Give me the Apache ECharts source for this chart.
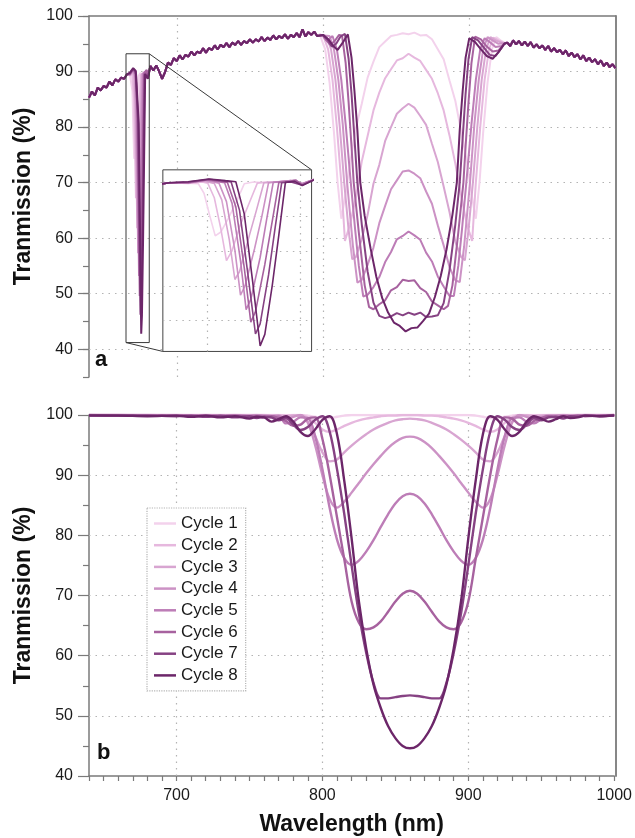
<!DOCTYPE html>
<html>
<head>
<meta charset="utf-8">
<title>Transmission cycles</title>
<script src="https://cdn.jsdelivr.net/npm/echarts@6/dist/echarts.min.js"></script>
<style>
html, body { margin: 0; padding: 0; background: #fff; }
#main { width: 635px; height: 838px; }
</style>
</head>
<body>
<div id="main"></div>
<script type="text/javascript">
// ---- names / tick values ----
var cycleNames = ['Cycle 1', 'Cycle 2', 'Cycle 3', 'Cycle 4', 'Cycle 5', 'Cycle 6', 'Cycle 7', 'Cycle 8'];
var gridX = [700, 800, 900];
var gridYTop = [40, 50, 60, 70, 80, 90];
var gridYBot = [50, 60, 70, 80, 90];
var majorTicksTop = [40, 50, 60, 70, 80, 90, 100];
var insetGridX = [670, 680];
var insetGridY = [50, 60, 70, 80, 90];
// zoom window (nm, %) and where the inset sits in panel a coordinates
var insetX = [665.3, 681.2];
var insetY = [41.2, 93.2];
var insetFrame = [690.5, 792.2, 39.6, 72.3];

// ---- panel a : measured spectra ----
// baseline shared by all cycles (outside the two dips)
var baseA = [[640,85.3],[642,86.4],[644,85.7],[646,87.1],[648,86.6],[650,87.4],[652,87.1],[654,88.2],[656,87.5],[658,88.6],[660,88.2],[662,88.9],[664,88.7],[666,89.5]];
var baseB = [[682,91.0],[684,90.2],[686,91.1],[688,90.0],[690,88.7],[692,89.9],[694,91.6],[696,91.2],[698,92.4],[700,91.9],[702,92.9],[704,92.2],[706,93.0],[708,92.7],[710,93.6],[712,92.9],[714,93.6],[716,93.3],[718,94.2],[720,93.4],[722,94.2],[724,93.9],[726,94.7],[728,94.0],[730,94.8],[732,94.4],[734,95.1],[736,94.4],[738,95.2],[740,94.8],[742,95.5],[744,94.8],[746,95.5],[748,95.1],[750,95.8],[752,95.2],[754,95.8],[756,95.4],[758,96.2],[760,95.5],[762,96.1],[764,95.7],[766,96.5],[768,95.8],[770,96.4],[772,96.0],[774,96.7],[776,95.9],[778,96.6],[780,96.2],[782,96.9],[784,96.2],[786,97.6],[788,96.3],[790,97.1],[792,96.6],[794,97.2],[796,96.4]];
var baseC = [[926,95.2],[928,94.6],[930,95.6],[932,94.9],[934,95.5],[936,94.7],[938,95.4],[940,94.6],[942,95.3],[944,94.3],[946,94.9],[948,94.2],[950,94.7],[952,93.9],[954,94.6],[956,93.6],[958,94.2],[960,93.5],[962,93.9],[964,93.1],[966,93.8],[968,92.8],[970,93.4],[972,92.6],[974,93.1],[976,92.2],[978,92.9],[980,91.9],[982,92.5],[984,91.7],[986,92.2],[988,91.3],[990,92.0],[992,91.0],[994,91.6],[996,90.8],[998,91.3],[1000,90.6]];

// narrow notch near 675 nm
var notch1 = [[668,89.4],[669.1,89.2],[669.7,86.5],[670.3,80.2],[670.9,74.3],[671.5,75.4],[672.3,79.3],[673.2,84.3],[674.0,89.2],[675,89.7],[676.5,89.5],[678,89.9],[679,90.1],[680.2,89.2]];
var notch2 = [[668,89.3],[669.5,89.7],[670.1,89.4],[670.8,85.2],[671.5,76.3],[672.1,67.2],[672.7,70.1],[673.6,77.6],[674.5,83.5],[675.4,89.4],[676.5,89.7],[678,89.6],[679,90.0],[680.2,89.0]];
var notch3 = [[668,89.5],[669.6,90.0],[670.8,89.3],[671.6,84.6],[672.4,73.2],[673.0,61.8],[673.5,64.1],[674.4,73.0],[675.3,81.6],[676.1,89.5],[677.4,89.7],[678.7,90.0],[680.2,89.1]];
var notch4 = [[668,89.4],[669.8,90.2],[671.3,89.4],[672.1,84.1],[673.0,70.2],[673.6,57.3],[674.1,60.1],[675.1,70.6],[675.9,80.1],[676.6,89.5],[677.8,89.8],[679,90.1],[680.2,89.3]];
var notch5 = [[668,89.6],[670,90.3],[671.9,89.5],[672.7,83.6],[673.6,67.2],[674.2,53.2],[674.7,56.1],[675.7,68.1],[676.4,79.1],[677.1,89.6],[678.2,89.9],[679.3,90.2],[680.2,89.2]];
var notch6 = [[668,89.5],[670.2,90.4],[672.2,89.6],[673.1,82.6],[674.0,65.2],[674.7,49.6],[675.2,52.6],[676.2,66.1],[677.0,78.6],[677.7,89.6],[678.8,89.8],[679.5,90.3],[680.2,88.9]];
var notch7 = [[668,89.7],[670.3,90.5],[671.8,90.0],[672.6,89.7],[673.5,81.6],[674.4,63.1],[675.2,46.2],[675.7,49.1],[676.6,63.1],[677.3,76.6],[678.0,89.5],[679.0,89.7],[680.2,88.8]];
var notch8 = [[668,89.8],[670.2,90.6],[672.0,90.1],[673.1,89.8],[674.0,80.6],[674.9,61.2],[675.7,42.8],[676.2,46.1],[677.0,60.2],[677.7,74.6],[678.4,89.6],[679.4,89.9],[680.2,88.7]];

// broad stop band around 860 nm
var meas1 = [[798,96.5],[801.5,94],[804.5,88],[807.5,79],[810,70],[812.5,63.5],[815.5,68],[818.5,73.5],[822.5,79.8],[826.5,84.2],[830.5,88.9],[834.5,91.8],[838.5,94.4],[842.5,95.4],[846.5,96.4],[850.5,96.6],[854.5,96.9],[858.5,96.7],[862.5,97.0],[866.5,96.5],[870.5,96.6],[874.5,95.8],[878.5,94.0],[882.5,92.2],[886.5,88.4],[890.5,84.7],[894.5,79.2],[898.5,73.6],[901.5,68],[904.5,63.5],[907,70],[909.5,79],[912.5,88],[915.5,94],[918.5,96.2],[922,95.5],[924,95.2]];
var meas2 = [[798,96.7],[800.5,96.2],[803.5,94],[806.5,88.5],[809.5,80],[812.5,70],[815,59.5],[818.5,62.5],[822.5,67.3],[826.5,73.8],[830.5,78.4],[834.5,83.0],[838.5,86.2],[842.5,88.8],[846.5,90.4],[850.5,92.0],[854.5,92.4],[858.5,93.2],[862.5,92.5],[866.5,91.9],[870.5,90.3],[874.5,88.7],[878.5,86.1],[882.5,83.0],[886.5,78.5],[890.5,73.4],[894.5,67.6],[898.5,62.3],[902,59.5],[904.5,70],[907.5,80],[910.5,88.5],[913.5,94],[916.5,96.1],[920,95.6],[924,95.1]];
var meas3 = [[800,96.6],[802.5,96.3],[805.5,94],[808.5,88.5],[811.5,80],[814.5,70],[817.5,61.5],[820,56.2],[822.5,56.6],[826.5,59.8],[830.5,64.2],[834.5,69.8],[838.5,73.2],[842.5,77.5],[846.5,80.0],[850.5,82.4],[854.5,83.4],[858.5,84.2],[862.5,83.5],[866.5,82.0],[870.5,80.4],[874.5,77.0],[878.5,73.7],[882.5,69.3],[886.5,64.7],[890.5,59.3],[894.5,56.6],[897,56.0],[899.5,61.5],[902.5,70],[905.5,80],[908.5,88.5],[911.5,94],[914.5,96.2],[918,95.6],[922,95.2],[924,95.0]];
var meas4 = [[800,96.5],[804.5,96.4],[807.5,94],[810.5,88.5],[813.5,80.5],[816.5,70],[820.5,58.5],[823.5,52],[826.5,52.5],[830.5,55.2],[834.5,58.3],[838.5,62.7],[842.5,65.8],[846.5,68.8],[850.5,70.4],[854.5,72.0],[858.5,72.2],[862.5,71.6],[866.5,70.8],[870.5,68.4],[874.5,66.2],[878.5,62.3],[882.5,58.7],[886.5,54.8],[890.5,52.4],[893.5,52.1],[896.5,58.5],[900.5,70],[903.5,80.5],[906.5,88.5],[909.5,94],[912.5,96.2],[916,95.6],[920,95.0],[924,95.1]];
var meas5 = [[800,96.4],[803,95.6],[806.5,96.4],[809.5,94],[812.5,88.5],[815.5,80.5],[819,70],[822,61.5],[824.5,55],[827.5,49.5],[830.5,49.8],[834.5,51.2],[838.5,53.0],[842.5,55.7],[846.5,57.5],[850.5,59.8],[854.5,60.4],[858.5,61.2],[862.5,60.5],[866.5,59.7],[870.5,57.4],[874.5,55.8],[878.5,53.1],[882.5,51.3],[886.5,49.6],[889.5,49.6],[892.5,55],[895,61.5],[898,70],[901.5,80.5],[904.5,88.5],[907.5,94],[910.5,96.0],[914,95.3],[918,94.4],[922,94.6],[924,95.0]];
var meas6 = [[800,96.5],[802,95.7],[805,94.8],[808,95.5],[811,96.6],[813,96.5],[815.5,91.5],[817.5,84.5],[819.5,76.5],[821,70],[824.5,61],[828.5,51.5],[831.5,47.6],[834.5,47.2],[838.5,48.1],[842.5,48.8],[846.5,50.6],[850.5,51.2],[854.5,52.5],[858.5,52.3],[862.5,52.4],[866.5,51.0],[870.5,50.3],[874.5,48.6],[878.5,47.9],[882.5,47.2],[885.5,47.8],[888.5,51.5],[892.5,61],[896,70],[897.5,76.5],[899.5,84.5],[901.5,91.5],[904,96.3],[908,95.8],[912,94.5],[916,93.6],[920,93.8],[924,95.0]];
var meas7 = [[800,96.6],[803,95.8],[806,94.5],[809,95.0],[812,96.3],[815,96.8],[817.5,92.3],[819.5,86.0],[821.5,78.0],[823.5,70],[826.5,62.5],[830.5,54.0],[834.5,48.4],[838.5,46.0],[842.5,45.6],[846.5,45.9],[850.5,46.5],[854.5,46.1],[858.5,46.6],[862.5,46.2],[866.5,46.6],[870.5,45.8],[874.5,45.9],[878.5,46.1],[882.5,48.3],[886.5,54.2],[890.5,62.5],[893.5,70],[895.5,78],[897.5,86],[899.5,92.3],[902,96.2],[906,95.6],[910,94.3],[914,93.0],[918,92.8],[922,94.2],[924,95.0]];
var meas8 = [[800,96.6],[804,95.7],[807,94.6],[810,93.9],[813.5,95.2],[817,96.7],[819.5,92.5],[821.5,86.5],[823.5,79.5],[825.5,70],[828.5,64],[832.5,58.2],[836.5,53.0],[840.5,49.2],[844.5,46.6],[848.5,44.8],[852.5,44.2],[856.5,43.2],[860.5,43.8],[864.5,43.9],[868.5,45.1],[872.5,46.4],[876.5,49.4],[880.5,53.2],[884.5,58.0],[888.5,64.2],[891.5,70],[893.5,79.5],[895.5,86.5],[897.5,92.5],[900,96.0],[904,95.3],[908,94.0],[912,92.8],[916,92.3],[920,93.5],[924,95.0]];

// ---- panel b : simulated spectra ----
var simX = [640,660,680,700,710,720,730,740,750,755,760,765,770,
  775,780,785,790,795,800,805,810,815,820,825,830,835,840,845,850,855,860,865,870,875,880,885,890,895,900,905,910,915,920,925,930,935,940,945,
  950,955,960,965,970,975,980,990,1000];
var sim1 = [100,100,100,100,100,100,100,100,100,100,100,100,100,
  100,100,100,99.9,99.7,99.5,99.5,99.7,99.9,100,100,100,100,100,100,100,100,100,100,100,100,100,100,100,100,100,99.9,99.7,99.5,99.5,99.7,99.9,100,100,100,
  100,100,100,100,100,100,100,100,100];
var sim2 = [100,100,100,100,100,100,100,100,100,100,100,100,100,
  99.9,100,100,99.6,98.7,97.6,97.2,97.6,98.2,98.7,99.1,99.4,99.6,99.8,99.9,99.9,100,100,100,99.9,99.9,99.8,99.6,99.4,99.1,98.7,98.2,97.6,97.2,97.6,98.7,99.6,100,100,99.9,
  100,100,100,100,100,100,100,100,100];
var sim3 = [100,100,100,100,100,100,100,100,100,100,100,99.9,99.9,
  99.6,99.9,99.9,98.9,96.5,93.8,92.3,92.6,93.8,94.9,95.9,96.8,97.6,98.2,98.7,99.1,99.3,99.4,99.3,99.1,98.7,98.2,97.6,96.8,95.9,94.9,93.8,92.6,92.3,93.8,96.5,98.9,99.9,99.9,99.6,
  99.8,100,100,100,100,100,100,100,100];
var sim4 = [100,100,100,100,99.9,100,99.9,100,99.9,100,99.9,99.8,99.9,
  99.2,99.7,100,98.7,95.0,90.0,86.0,84.6,85.6,87.1,88.7,90.3,91.8,93.2,94.5,95.5,96.2,96.4,96.2,95.5,94.5,93.2,91.8,90.3,88.7,87.1,85.6,84.6,86.0,90.0,95.0,98.7,100,99.7,99.2,
  99.6,99.9,99.9,100,99.9,100,100,100,100];
var sim5 = [100,100,100,99.9,99.9,99.9,99.8,99.9,99.8,99.9,99.8,99.6,99.8,
  98.6,98.9,99.6,99.5,96.5,91.0,84.5,79.3,76.2,75.1,75.8,77.3,79.2,81.4,83.5,85.3,86.5,86.9,86.5,85.3,83.5,81.4,79.2,77.3,75.8,75.1,76.2,79.3,84.5,91.0,96.5,99.5,99.6,98.9,98.6,
  99.3,99.8,99.7,99.9,99.8,99.9,100,99.9,100];
var sim6 = [100,100,99.9,99.9,99.8,99.9,99.8,99.9,99.7,99.8,99.6,99.8,99.5,
  99.0,98.2,98.4,99.4,99.6,96.0,90.0,83.0,76.0,69.0,65.5,64.4,64.7,65.7,67.3,69.0,70.3,70.8,70.3,69.0,67.3,65.7,64.7,64.4,65.5,69.0,76.0,83.0,90.0,96.0,99.6,99.4,98.4,98.2,99.0,
  99.5,99.8,99.6,99.8,99.7,99.9,99.8,99.9,100];
var sim7 = [100,99.9,99.9,99.8,99.9,99.7,99.9,99.6,99.8,99.5,99.7,99.6,99.1,
  99.5,98.4,97.5,98.0,99.2,99.8,97.2,91.0,83.5,75.0,67.0,60.5,55.5,52.9,52.9,53.1,53.3,53.4,53.3,53.1,52.9,52.9,55.5,60.5,67.0,75.0,83.5,91.0,97.2,99.8,99.2,98.0,97.5,98.4,99.5,
  99.1,99.6,99.7,99.4,99.8,99.7,99.9,99.8,100];
var sim8 = [99.9,99.9,99.8,99.9,99.7,99.9,99.6,99.8,99.4,99.7,99.6,98.9,99.3,
  99.8,98.9,97.2,96.5,97.6,99.2,99.8,96.8,89.0,79.5,69.0,61.2,55.2,51.3,48.3,46.3,45.0,44.6,45.0,46.3,48.3,51.3,55.2,61.2,69.0,79.5,89.0,96.8,99.8,99.2,97.6,96.5,97.2,98.9,99.8,
  99.4,98.9,99.3,99.8,99.5,99.6,99.9,99.8,99.9];

// ---- styles ----
var font = "'Liberation Sans', Arial, Helvetica, sans-serif";
var colors = ['#f3d2ec', '#e6b8de', '#d8a5d1', '#cc92c5', '#bd7db7', '#a7629f', '#864283', '#6c2669'];
var axisGray = '#7a7a7a';
var dotted = { color: '#b3b3b3', width: 1.2, type: [1.5, 5] };
var nameStyle = { fontSize: 23, fontWeight: 'bold', color: '#111', fontFamily: font };

var notches = [notch1, notch2, notch3, notch4, notch5, notch6, notch7, notch8];
var measured = [meas1, meas2, meas3, meas4, meas5, meas6, meas7, meas8];
var simulated = [sim1, sim2, sim3, sim4, sim5, sim6, sim7, sim8];

function gridMarks(xs, ys, z) {
    return {
        silent: true, symbol: 'none', z: z, animation: false,
        label: { show: false }, lineStyle: dotted,
        data: xs.map(function (v) { return { xAxis: v }; }).concat(ys.map(function (v) { return { yAxis: v }; }))
    };
}

var series = [];
// panel b first, so the legend takes its icons from these curves
series.push({ type: 'line', xAxisIndex: 1, yAxisIndex: 2, data: [], z: 1, markLine: gridMarks(gridX, gridYBot, 1) });
for (var k = 0; k < 8; k++) {
    var pts = simX.map(function (x, i) { return [x, simulated[k][i]]; });
    series.push({
        name: cycleNames[k], type: 'line', xAxisIndex: 1, yAxisIndex: 2, z: 2,
        data: pts, smooth: 0.35,
        showSymbol: false, symbol: 'none',
        lineStyle: { color: colors[k], width: 2.4 }, itemStyle: { color: colors[k] }
    });
}
// panel a grid lines
series.push({ type: 'line', xAxisIndex: 0, yAxisIndex: 0, data: [], z: 1, markLine: gridMarks(gridX, gridYTop, 1) });
// zoom box + connectors
series.push({
    type: 'line', xAxisIndex: 0, yAxisIndex: 0, data: [], z: 3,
    markArea: {
        silent: true, z: 3, label: { show: false },
        itemStyle: { color: 'rgba(0,0,0,0)', borderColor: '#3a3a3a', borderWidth: 1 },
        data: [[{ coord: [insetX[0], insetY[1]] }, { coord: [insetX[1], insetY[0]] }]]
    },
    markLine: {
        silent: true, symbol: 'none', z: 3, label: { show: false },
        lineStyle: { color: '#3a3a3a', width: 1, type: 'solid' },
        data: [
            [{ coord: [insetX[1], insetY[1]] }, { coord: [insetFrame[1], insetFrame[3]] }],
            [{ coord: [insetX[0], insetY[0]] }, { coord: [insetFrame[0], insetFrame[2]] }]
        ]
    }
});
for (var k = 0; k < 8; k++) {
    series.push({
        name: cycleNames[k], type: 'line', xAxisIndex: 0, yAxisIndex: 0, z: 2,
        data: baseA.concat(notches[k], baseB, measured[k], baseC),
        showSymbol: false, symbol: 'none',
        lineStyle: { color: colors[k], width: 2 }, itemStyle: { color: colors[k] }
    });
}
// inset
series.push({ type: 'line', xAxisIndex: 2, yAxisIndex: 3, data: [], z: 6, markLine: gridMarks(insetGridX, insetGridY, 6) });
for (var k = 0; k < 8; k++) {
    series.push({
        name: cycleNames[k], type: 'line', xAxisIndex: 2, yAxisIndex: 3, z: 7,
        data: baseA.concat(notches[k], baseB),
        showSymbol: false, symbol: 'none',
        lineStyle: { color: colors[k], width: 1.6 }, itemStyle: { color: colors[k] }
    });
}

var hidden = { show: false };
var option = {
    animation: false,
    backgroundColor: '#fff',
    textStyle: { fontFamily: font },
    title: [
        { text: 'a', left: 95, top: 349, padding: 0, textStyle: { fontSize: 22, fontWeight: 'bold', color: '#111', fontFamily: font } },
        { text: 'b', left: 97, top: 742, padding: 0, textStyle: { fontSize: 22, fontWeight: 'bold', color: '#111', fontFamily: font } }
    ],
    legend: {
        data: cycleNames, orient: 'vertical', left: 147, top: 508,
        icon: 'rect', itemWidth: 22, itemHeight: 2.5,
        padding: [7, 8, 7, 7], itemGap: 4.7,
        selectedMode: false, backgroundColor: '#fff',
        borderColor: '#b3b3b3', borderWidth: 1.2, borderType: 'dotted',
        textStyle: { fontSize: 17, color: '#1a1a1a', fontFamily: font, lineHeight: 17 }
    },
    grid: [
        { left: 89, top: 16, width: 526.5, height: 361 },
        { left: 89, top: 415, width: 526.5, height: 361 },
        { left: 163, top: 170, width: 149, height: 181, show: true, z: 5, backgroundColor: '#fff', borderColor: '#444', borderWidth: 1 },
        { left: 89, top: 16, width: 526.5, height: 760 }
    ],
    xAxis: [
        { gridIndex: 0, type: 'value', min: 640, max: 1000, position: 'top',
          axisLine: { show: true, onZero: false, lineStyle: { color: axisGray, width: 1.5 } },
          axisTick: hidden, axisLabel: hidden, splitLine: hidden },
        { gridIndex: 1, type: 'value', min: 640, max: 1000, interval: 10, position: 'bottom',
          axisLine: { show: true, onZero: false, lineStyle: { color: axisGray, width: 1.5 } },
          axisTick: { show: true, length: 5, lineStyle: { color: axisGray, width: 1.2 } },
          axisLabel: { margin: 12, fontSize: 16, color: '#1a1a1a', fontFamily: font,
                       formatter: function (v) { return v % 100 === 0 ? String(v) : ''; } },
          splitLine: hidden,
          name: 'Wavelength (nm)', nameLocation: 'middle', nameGap: 37, nameTextStyle: nameStyle },
        { gridIndex: 2, type: 'value', min: insetX[0], max: insetX[1], show: false },
        { gridIndex: 3, type: 'value', min: 0, max: 1, show: false }
    ],
    yAxis: [
        { gridIndex: 0, type: 'value', min: 35, max: 100, interval: 5, position: 'left',
          axisLine: { show: true, onZero: false, lineStyle: { color: axisGray, width: 1.5 } },
          axisTick: { show: true, length: 6, lineStyle: { color: axisGray, width: 1.2 } },
          axisLabel: { margin: 16, fontSize: 16, color: '#1a1a1a', fontFamily: font,
                       formatter: function (v) { return v % 10 === 0 ? String(v) : ''; } },
          splitLine: hidden,
          name: 'Tranmission (%)', nameLocation: 'middle', nameGap: 54, nameTextStyle: nameStyle },
        { gridIndex: 0, type: 'value', min: 35, max: 100, interval: 5, position: 'left',
          axisLine: { show: false, onZero: false },
          axisTick: { show: true, length: 11, customValues: majorTicksTop, lineStyle: { color: axisGray, width: 1.2 } },
          axisLabel: hidden, splitLine: hidden },
        { gridIndex: 1, type: 'value', min: 40, max: 100, interval: 10, position: 'left',
          axisLine: { show: true, onZero: false, lineStyle: { color: axisGray, width: 1.5 } },
          axisTick: { show: true, length: 11, lineStyle: { color: axisGray, width: 1.2 } },
          minorTick: { show: true, splitNumber: 2, length: 6, lineStyle: { color: axisGray, width: 1.2 } },
          axisLabel: { margin: 16, fontSize: 16, color: '#1a1a1a', fontFamily: font },
          splitLine: hidden,
          name: 'Tranmission (%)', nameLocation: 'middle', nameGap: 54, nameTextStyle: nameStyle },
        { gridIndex: 2, type: 'value', min: insetY[0], max: insetY[1], show: false },
        { gridIndex: 3, type: 'value', min: 0, max: 1, position: 'right',
          axisLine: { show: true, onZero: false, lineStyle: { color: axisGray, width: 1.8 } },
          axisTick: hidden, axisLabel: hidden, splitLine: hidden }
    ],
    series: series
};

var chart = echarts.init(document.getElementById('main'));
chart.setOption(option);

// place the inset exactly where its frame sits in panel a
var tl = chart.convertToPixel({ xAxisIndex: 0, yAxisIndex: 0 }, [insetFrame[0], insetFrame[3]]);
var br = chart.convertToPixel({ xAxisIndex: 0, yAxisIndex: 0 }, [insetFrame[1], insetFrame[2]]);
chart.setOption({ grid: [{}, {}, { left: tl[0], top: tl[1], width: br[0] - tl[0], height: br[1] - tl[1] }, {}] });

window.addEventListener('resize', function () { chart.resize(); });
</script>
</body>
</html>
